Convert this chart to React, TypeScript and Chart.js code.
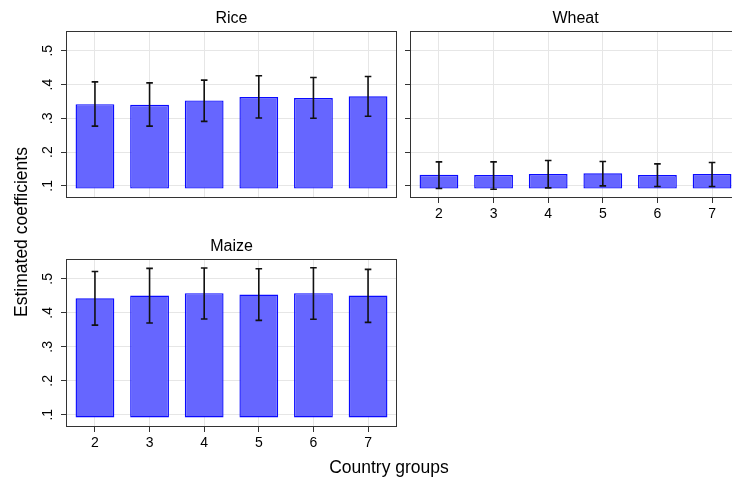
import React, { useEffect, useRef } from 'react';
import { Chart, registerables } from 'chart.js';

Chart.register(...registerables);

// ---- data ----
const groups = [2, 3, 4, 5, 6, 7];
const yTicks = [0.1, 0.2, 0.3, 0.4, 0.5];
const BAR_BASE = 0.092;
const X_MIN = 1.47;
const X_MAX = 7.53;
const Y_MIN = 0.064;
const Y_MAX = 0.558;

const riceCoef = [0.342, 0.34, 0.353, 0.363, 0.36, 0.365];
const riceLo = [0.277, 0.277, 0.291, 0.301, 0.3, 0.306];
const riceHi = [0.408, 0.405, 0.413, 0.426, 0.421, 0.424];

const wheatCoef = [0.1325, 0.132, 0.135, 0.137, 0.132, 0.135];
const wheatLo = [0.092, 0.09, 0.094, 0.1, 0.098, 0.098];
const wheatHi = [0.171, 0.171, 0.175, 0.172, 0.165, 0.169];

const maizeCoef = [0.443, 0.451, 0.458, 0.454, 0.458, 0.451];
const maizeLo = [0.364, 0.37, 0.382, 0.378, 0.381, 0.372];
const maizeHi = [0.522, 0.531, 0.532, 0.53, 0.533, 0.528];

const FONT = "'Liberation Sans', Arial, Helvetica, sans-serif";

const framePlugin = {
  id: 'frame',
  afterDatasetsDraw(chart: any) {
    const { ctx, chartArea: a } = chart;
    ctx.save();
    ctx.strokeStyle = '#333333';
    ctx.lineWidth = 1;
    const l = Math.round(a.left) + 0.5;
    const t = Math.round(a.top) + 0.5;
    const r = Math.round(a.right) - 0.5;
    const b = Math.round(a.bottom) - 0.5;
    ctx.strokeRect(l, t, r - l, b - t);
    ctx.restore();
  },
};

type PanelOpts = {
  title: string;
  coef: number[];
  lo: number[];
  hi: number[];
  showY: boolean;
  showX: boolean;
  yWidth: number;
  xHeight: number;
  padRight: number;
};

function makeConfig(p: PanelOpts): any {
  const errData: any[] = [];
  groups.forEach((g, i) => {
    errData.push({ x: g, y: p.lo[i] });
    errData.push({ x: g, y: p.hi[i] });
    errData.push({ x: g, y: null });
  });
  const barData = groups.map((g, i) => ({ x: g, y: [BAR_BASE, p.coef[i]] }));
  return {
    type: 'bar',
    data: {
      datasets: [
        {
          type: 'line',
          data: errData,
          borderColor: '#111111',
          borderWidth: 1.6,
          pointStyle: 'line',
          pointRadius: 3.3,
          pointHoverRadius: 3.3,
          pointBorderWidth: 1.6,
          pointBorderColor: '#111111',
          pointBackgroundColor: '#111111',
          fill: false,
          spanGaps: false,
          tension: 0,
          order: 0,
        },
        {
          type: 'bar',
          data: barData,
          backgroundColor: 'rgb(102,102,255)',
          borderColor: 'rgb(10,10,255)',
          borderWidth: 1.4,
          borderSkipped: false,
          inflateAmount: 0,
          categoryPercentage: 1,
          barPercentage: 0.71,
          order: 1,
        },
      ],
    },
    options: {
      responsive: false,
      animation: false,
      events: [],
      layout: { padding: { left: 0, right: p.padRight, top: 0, bottom: 0 } },
      plugins: {
        legend: { display: false },
        tooltip: { enabled: false },
        title: {
          display: true,
          text: p.title,
          fullSize: false,
          color: '#000',
          font: { family: FONT, size: 16, weight: 'normal' },
          padding: { top: 9, bottom: 3 },
        },
      },
      scales: {
        x: {
          type: 'linear',
          min: X_MIN,
          max: X_MAX,
          offset: false,
          afterBuildTicks: (s: any) => {
            s.ticks = groups.map((v) => ({ value: v }));
          },
          afterFit: (s: any) => {
            s.height = p.xHeight;
          },
          grid: {
            color: '#e6e6e6',
            lineWidth: 1,
            offset: false,
            drawTicks: p.showX,
            tickLength: 5,
            tickColor: '#333333',
          },
          border: { display: false },
          ticks: {
            display: p.showX,
            color: '#000',
            font: { family: FONT, size: 14 },
            padding: 3,
            minRotation: 0,
            maxRotation: 0,
            callback: (v: any) => String(v),
          },
        },
        y: {
          type: 'linear',
          min: Y_MIN,
          max: Y_MAX,
          afterBuildTicks: (s: any) => {
            s.ticks = yTicks.map((v) => ({ value: v }));
          },
          afterFit: (s: any) => {
            s.width = p.yWidth;
          },
          grid: {
            color: '#e6e6e6',
            lineWidth: 1,
            drawTicks: true,
            tickLength: 5,
            tickColor: '#333333',
          },
          border: { display: false },
          ticks: {
            display: p.showY,
            color: '#000',
            font: { family: FONT, size: 14 },
            minRotation: 90,
            maxRotation: 90,
            crossAlign: 'center',
            padding: 7,
            callback: (v: any) => String(v).replace(/^0\./, '.'),
          },
        },
      },
    },
    plugins: [framePlugin],
  };
}

export default function App() {
  const riceRef = useRef<HTMLCanvasElement>(null);
  const wheatRef = useRef<HTMLCanvasElement>(null);
  const maizeRef = useRef<HTMLCanvasElement>(null);

  useEffect(() => {
    const charts: Chart[] = [];
    if (riceRef.current)
      charts.push(
        new Chart(
          riceRef.current,
          makeConfig({
            title: 'Rice',
            coef: riceCoef,
            lo: riceLo,
            hi: riceHi,
            showY: true,
            showX: false,
            yWidth: 66,
            xHeight: 32,
            padRight: 8,
          })
        )
      );
    if (wheatRef.current)
      charts.push(
        new Chart(
          wheatRef.current,
          makeConfig({
            title: 'Wheat',
            coef: wheatCoef,
            lo: wheatLo,
            hi: wheatHi,
            showY: false,
            showX: true,
            yWidth: 10,
            xHeight: 32,
            padRight: 9,
          })
        )
      );
    if (maizeRef.current)
      charts.push(
        new Chart(
          maizeRef.current,
          makeConfig({
            title: 'Maize',
            coef: maizeCoef,
            lo: maizeLo,
            hi: maizeHi,
            showY: true,
            showX: true,
            yWidth: 66,
            xHeight: 31,
            padRight: 8,
          })
        )
      );
    return () => charts.forEach((c) => c.destroy());
  }, []);

  const canvasStyle: React.CSSProperties = { position: 'absolute', display: 'block' };

  return (
    <div
      style={{
        position: 'fixed',
        left: 0,
        top: 0,
        width: 732,
        height: 479,
        overflow: 'hidden',
        background: '#fff',
        fontFamily: FONT,
        color: '#000',
      }}
    >
      <canvas ref={riceRef} width={405} height={230} style={{ ...canvasStyle, left: 0, top: 0 }} />
      <canvas ref={wheatRef} width={350} height={230} style={{ ...canvasStyle, left: 400, top: 0 }} />
      <canvas ref={maizeRef} width={405} height={230} style={{ ...canvasStyle, left: 0, top: 228 }} />
      <div
        style={{
          position: 'absolute',
          left: 21 - 150,
          top: 232 - 10,
          width: 300,
          height: 20,
          lineHeight: '20px',
          fontSize: 17.5,
          textAlign: 'center',
          transform: 'rotate(-90deg)',
          transformOrigin: '50% 50%',
          whiteSpace: 'nowrap',
        }}
      >
        Estimated coefficients
      </div>
      <div
        style={{
          position: 'absolute',
          left: 389 - 150,
          top: 456.5,
          width: 300,
          height: 20,
          lineHeight: '20px',
          fontSize: 17.5,
          textAlign: 'center',
          whiteSpace: 'nowrap',
        }}
      >
        Country groups
      </div>
    </div>
  );
}
